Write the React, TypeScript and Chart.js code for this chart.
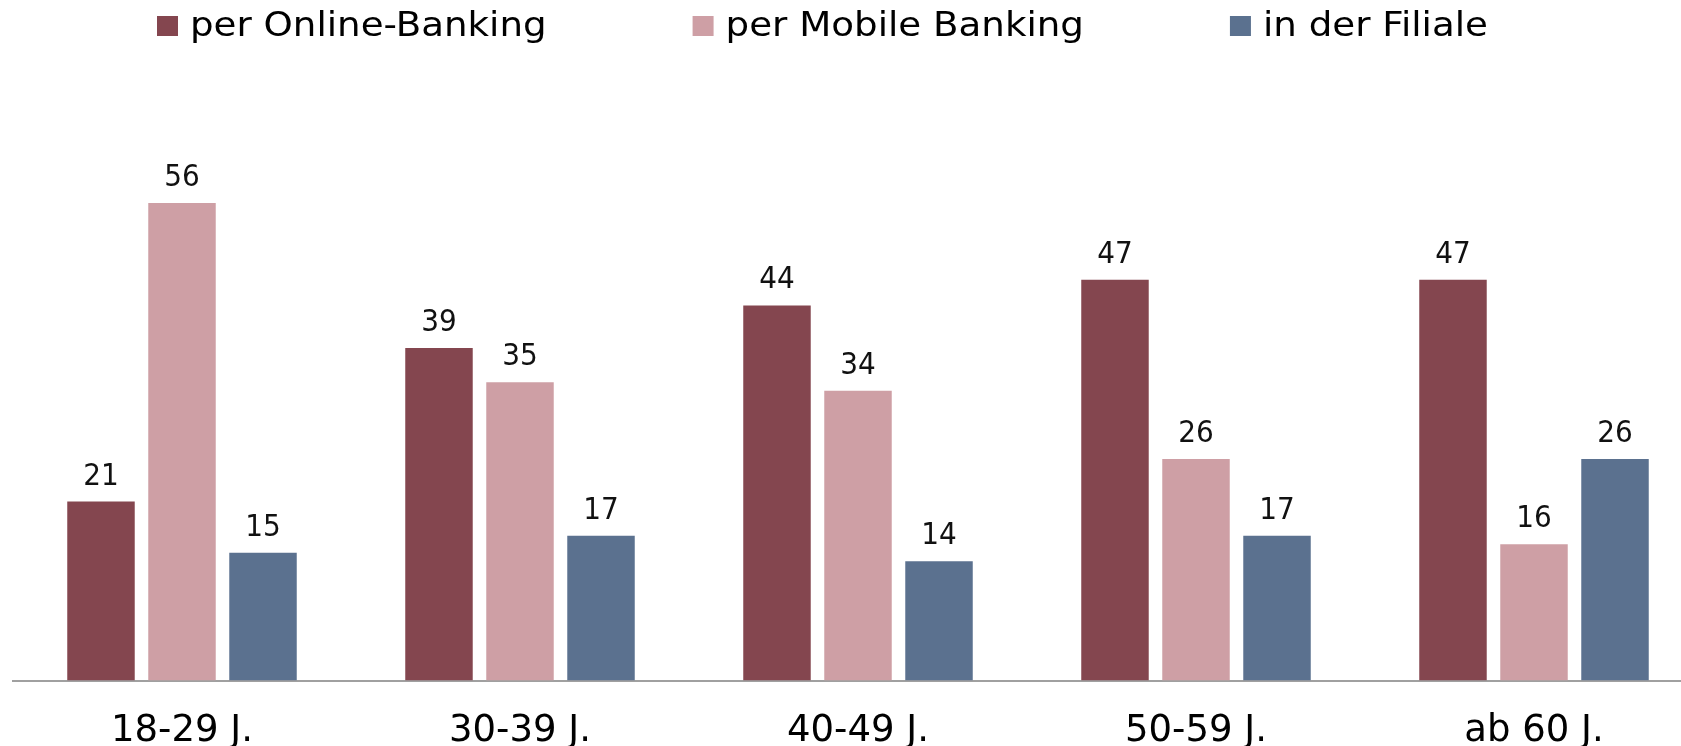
import React, { useEffect, useRef } from "react";
import { Chart, registerables } from "chart.js";

Chart.register(...registerables);

const categories = ["18-29 J.", "30-39 J.", "40-49 J.", "50-59 J.", "ab 60 J."];
const seriesNames = ["per Online-Banking", "per Mobile Banking", "in der Filiale"];
const onlineBanking = [21, 39, 44, 47, 47];
const mobileBanking = [56, 35, 34, 26, 16];
const filiale = [15, 17, 14, 17, 26];
const seriesColors = ["#84464f", "#ce9fa5", "#5b718f"];

const CANVAS_W = 1703;
const CANVAS_H = 792;

const valueLabelPlugin = {
  id: "valueLabels",
  afterDatasetsDraw(chart: any) {
    const ctx = chart.ctx;
    ctx.save();
    ctx.font = '31px "DejaVu Sans Condensed", "DejaVu Sans"';
    ctx.fillStyle = "#111111";
    ctx.textAlign = "center";
    ctx.textBaseline = "alphabetic";
    chart.data.datasets.forEach((ds: any, i: number) => {
      const meta = chart.getDatasetMeta(i);
      meta.data.forEach((el: any, j: number) => {
        ctx.fillText(String(ds.data[j]), el.x, el.y - 17);
      });
    });
    ctx.restore();
  },
};

const legendPlugin = {
  id: "customLegend",
  afterDraw(chart: any) {
    const ctx = chart.ctx;
    const fontSize = 33;
    const sx = 1.127;
    let x = 157;
    ctx.save();
    ctx.font = `${fontSize}px "DejaVu Sans"`;
    chart.data.datasets.forEach((ds: any) => {
      ctx.fillStyle = ds.backgroundColor;
      ctx.fillRect(x, 16, 21, 20);
      const tx = x + 33;
      ctx.save();
      ctx.translate(tx, 36);
      ctx.scale(sx, 1);
      ctx.fillStyle = "#000000";
      ctx.textAlign = "left";
      ctx.textBaseline = "alphabetic";
      ctx.fillText(ds.label, 0, 0);
      ctx.restore();
      const w = ctx.measureText(ds.label).width * sx;
      x = tx + w + 146;
    });
    ctx.restore();
  },
};

export default function App() {
  const canvasRef = useRef<HTMLCanvasElement | null>(null);

  useEffect(() => {
    document.body.style.overflow = "hidden";
    const canvas = canvasRef.current;
    if (!canvas) return;
    const values = [onlineBanking, mobileBanking, filiale];
    const chart = new Chart(canvas, {
      type: "bar",
      data: {
        labels: categories,
        datasets: seriesNames.map((name, i) => ({
          label: name,
          data: values[i],
          backgroundColor: seriesColors[i],
          borderWidth: 0,
          barPercentage: 0.833,
          categoryPercentage: 0.719,
        })),
      },
      options: {
        responsive: false,
        animation: false,
        layout: { padding: { top: 169, left: 13, right: 0, bottom: 9 } },
        plugins: {
          legend: { display: false },
          tooltip: { enabled: false },
          title: { display: false },
        },
        scales: {
          x: {
            grid: { display: false, drawTicks: false },
            border: { display: true, color: "#a0a0a0", width: 2 },
            ticks: {
              color: "#000000",
              padding: 29,
              font: { family: "DejaVu Sans", size: 37 },
            },
          },
          y: {
            display: false,
            min: 0,
            max: 60,
          },
        },
      },
      plugins: [valueLabelPlugin, legendPlugin],
    });
    return () => chart.destroy();
  }, []);

  return (
    <div
      style={{
        position: "fixed",
        left: 0,
        top: 0,
        width: CANVAS_W,
        height: CANVAS_H,
        background: "#ffffff",
      }}
    >
      <canvas ref={canvasRef} width={CANVAS_W} height={CANVAS_H} style={{ display: "block" }} />
    </div>
  );
}
